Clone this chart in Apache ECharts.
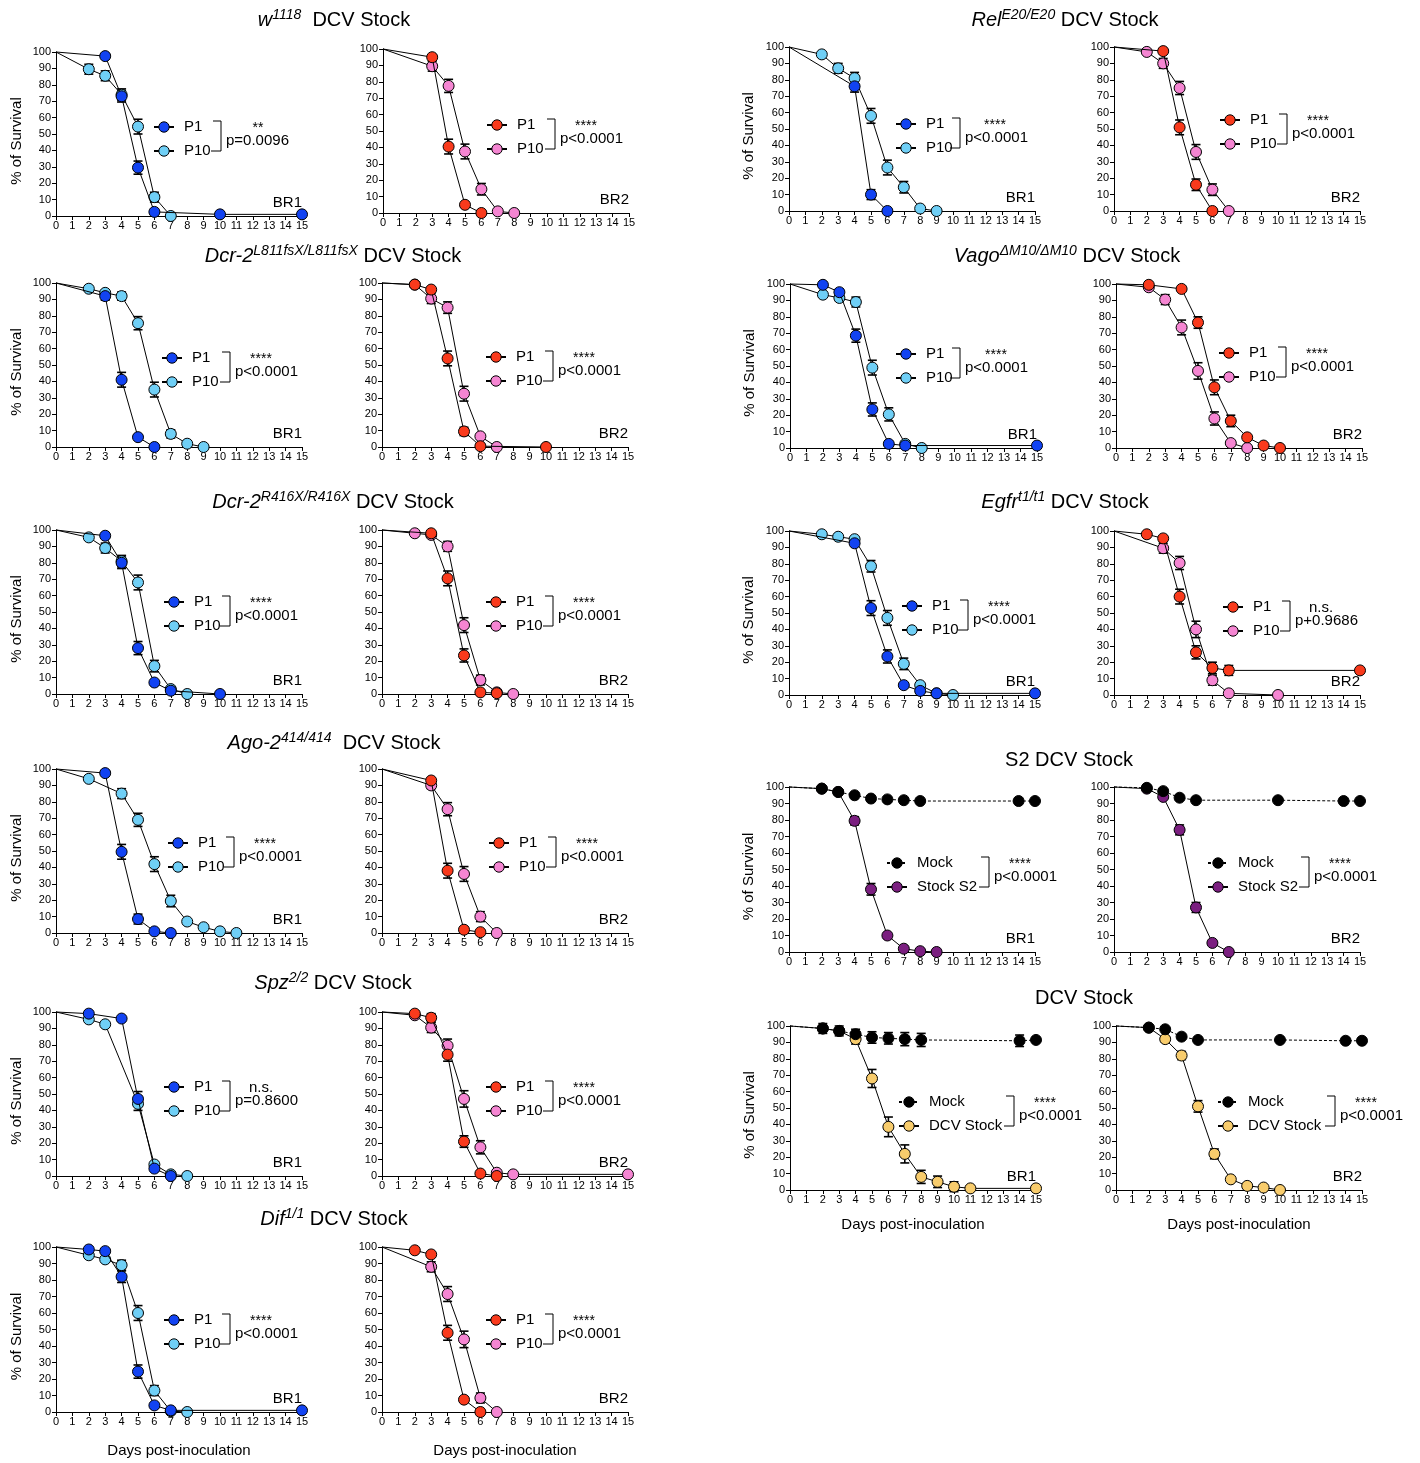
<!DOCTYPE html>
<html>
<head>
<meta charset="utf-8">
<script src="https://cdn.jsdelivr.net/npm/echarts@6/dist/echarts.min.js"></script>
<style>html,body{margin:0;padding:0;background:#fff}#c{width:1420px;height:1463px}</style>
</head>
<body>
<div id="c"></div>
<script>
// ---------- tick labels ----------
const dayTicks = [0,1,2,3,4,5,6,7,8,9,10,11,12,13,14,15];
const survTicks = [0,10,20,30,40,50,60,70,80,90,100];

// ---------- data: [day, % survival, SEM] ----------
const w1118_BR1_P1  = [[0,100,0],[3,97.5,0],[4,73,3.5],[5,29.5,4],[6,2.5,0],[10,1,0],[15,1,0]];
const w1118_BR1_P10 = [[0,100,0],[2,89.5,3],[3,85.5,3],[4,74,3.5],[5,54.5,4.5],[6,11.5,3],[7,0,0]];
const w1118_BR2_P1  = [[0,100,0],[3,95,0],[4,40.5,4.5],[5,5,0],[6,0,0]];
const w1118_BR2_P10 = [[0,100,0],[3,89.5,3],[4,77.5,4],[5,37.5,4.5],[6,14.5,3.5],[7,1,0],[8,0,0]];

const rel_BR1_P1  = [[0,100,0],[4,76,3.5],[5,10,3],[6,0,0]];
const rel_BR1_P10 = [[0,100,0],[2,95.5,0],[3,87,3],[4,81,3.5],[5,58,4.5],[6,26.5,4.5],[7,14.5,3.5],[8,1.5,0],[9,0,0]];
const rel_BR2_P1  = [[0,100,0],[3,97.5,0],[4,51,4.5],[5,16,3.5],[6,0,0]];
const rel_BR2_P10 = [[0,100,0],[2,97,0],[3,90,3],[4,75,4],[5,36,4.5],[6,13,3.5],[7,0,0]];

const l811_BR1_P1  = [[0,100,0],[3,92,2.5],[4,41,4.5],[5,6,0],[6,0,0]];
const l811_BR1_P10 = [[0,100,0],[2,96.5,0],[3,94,0],[4,92,2.5],[5,75.5,4],[6,35,4.5],[7,8,2.5],[8,2,0],[9,0,0]];
const l811_BR2_P1  = [[0,100,0],[2,99,0],[3,96,0],[4,54,4.5],[5,9.5,2.5],[6,0.5,0],[10,0,0]];
const l811_BR2_P10 = [[0,100,0],[2,99,0],[3,90.5,3],[4,85,3.5],[5,32.5,4.5],[6,6.5,0],[7,0,0]];

const vago_BR1_P1  = [[0,100,0],[2,99.5,0],[3,95,2],[4,68.5,4],[5,23.5,4],[6,2.5,0],[7,1.5,0],[15,1.5,0]];
const vago_BR1_P10 = [[0,100,0],[2,93.5,0],[3,91.5,2],[4,89,3],[5,49,4.5],[6,20.5,4],[7,2.5,0],[8,0,0]];
const vago_BR2_P1  = [[0,100,0],[2,99.5,0],[4,97,0],[5,76.5,3.5],[6,37,4.5],[7,16.5,3.5],[8,6.5,0],[9,1.5,0],[10,0,0]];
const vago_BR2_P10 = [[0,100,0],[2,98,0],[3,90.5,3],[4,73.5,4.5],[5,47,5],[6,18,4],[7,3,0],[8,0,0]];

const r416_BR1_P1  = [[0,100,0],[3,96.5,0],[4,80,3.5],[5,28,4],[6,7,0],[7,2,0],[10,0,0]];
const r416_BR1_P10 = [[0,100,0],[2,95.5,0],[3,89,3],[4,81,3.5],[5,68,4.5],[6,17,3.5],[7,3,0],[8,0,0]];
const r416_BR2_P1  = [[0,100,0],[3,98,0],[4,70.5,4.5],[5,23.5,4],[6,1,0],[7,0.5,0]];
const r416_BR2_P10 = [[0,100,0],[2,98,0],[3,97,0],[4,90,3],[5,42,4.5],[6,8.5,3],[7,1,1],[8,0,0]];

const ago_BR1_P1  = [[0,100,0],[3,97.5,0],[4,49.5,4.5],[5,8.5,3],[6,1,0],[7,0,0]];
const ago_BR1_P10 = [[0,100,0],[2,94,0],[4,85,3],[5,69,4],[6,42,4.5],[7,19.5,3.5],[8,7,0],[9,3.5,0],[10,1,0],[11,0,0]];
const ago_BR2_P1  = [[0,100,0],[3,93,0],[4,38,4.5],[5,2,0],[6,0.5,0]];
const ago_BR2_P10 = [[0,100,0],[3,90,2],[4,75.5,4],[5,36,4.5],[6,10,3],[7,0,0]];

const egfr_BR1_P1  = [[0,100,0],[4,92.5,0],[5,53,4.5],[6,23.5,4],[7,6,0],[8,2.5,0],[9,1,0],[15,1,0]];
const egfr_BR1_P10 = [[0,100,0],[2,98,0],[3,96.5,0],[4,95,0],[5,78.5,3.5],[6,47,4.5],[7,19,3.5],[8,6,0],[9,1,0],[10,0,0]];
const egfr_BR2_P1  = [[0,100,0],[2,98,0],[3,95.5,0],[4,60,4.5],[5,26,4],[6,16.5,3.5],[7,15,3],[15,15,0]];
const egfr_BR2_P10 = [[0,100,0],[3,89.5,3],[4,80.5,4],[5,40,5],[6,9,3],[7,1,0],[10,0,0]];

const s2_BR1_Mock  = [[0,100,0],[2,99,0],[3,97,0],[4,95,0],[5,93,0],[6,92.5,0],[7,92,0],[8,91.5,0],[14,91.5,0],[15,91.5,0]];
const s2_BR1_Stock = [[0,100,0],[2,99,0],[3,97,0],[4,79.5,2.5],[5,38,3.5],[6,10,0],[7,2,0],[8,0.5,0],[9,0,0]];
const s2_BR2_Mock  = [[0,100,0],[2,99.5,0],[3,97.5,0],[4,93.5,0],[5,92,0],[10,92,0],[14,91.5,0],[15,91.5,0]];
const s2_BR2_Stock = [[0,100,0],[2,99,0],[3,94,0],[4,74,3],[5,27,3],[6,5.5,0],[7,0,0]];

const spz_BR1_P1  = [[0,100,0],[2,99,0],[4,96,0],[5,47,4.5],[6,4.5,0],[7,0,0]];
const spz_BR1_P10 = [[0,100,0],[2,95.5,0],[3,92.5,0],[5,44,4],[6,7,0],[7,1,0],[8,0,0]];
const spz_BR2_P1  = [[0,100,0],[2,99,0],[3,96.5,2.5],[4,74,4],[5,21,3.5],[6,1.5,0],[7,0,0]];
const spz_BR2_P10 = [[0,100,0],[2,98,0],[3,90.5,3],[4,79.5,4],[5,47,5],[6,17.5,4],[7,2,0],[8,1,0],[15,1,0]];

const dcv_BR1_Mock  = [[0,100,0],[2,98.5,3],[3,97,3],[4,95,3],[5,93,3.5],[6,92.5,3.5],[7,92,4],[8,91.5,4],[14,91,3.5],[15,91.5,0]];
const dcv_BR1_Stock = [[0,100,0],[2,98.5,0],[3,97,0],[4,92,3],[5,68,5.5],[6,38.5,6],[7,22,5.5],[8,8,4],[9,5,3.5],[10,2,3],[11,1,1.5],[15,1,0]];
const dcv_BR2_Mock  = [[0,100,0],[2,99,0],[3,98,0],[4,93.5,0],[5,91.5,0],[10,91.5,0],[14,91,0],[15,91,0]];
const dcv_BR2_Stock = [[0,100,0],[2,99,0],[3,92,1.5],[4,82,2.5],[5,51,3.5],[6,22,3],[7,6.5,0],[8,2.5,0],[9,1.5,0],[10,0,0]];

const dif_BR1_P1  = [[0,100,0],[2,98.5,0],[3,97.5,0],[4,82,3.5],[5,24.5,4],[6,4,0],[7,1,0],[15,1,0]];
const dif_BR1_P10 = [[0,100,0],[2,95,0],[3,92.5,0],[4,89,3],[5,60,4.5],[6,13,3],[7,0.5,0],[8,0,0]];
const dif_BR2_P1  = [[0,100,0],[2,98,0],[3,95.5,0],[4,48,4.5],[5,7.5,0],[6,0,0]];
const dif_BR2_P10 = [[0,100,0],[3,88,3],[4,71.5,4.5],[5,44,5],[6,8.5,3],[7,0,0]];

// ---------- styling ----------
const FONT = 'Liberation Sans, Arial, Helvetica, sans-serif';
const BLUE = '#1243F2', LBLUE = '#6FCFF6', RED = '#F93A1C', PINK = '#F585D2',
      PURPLE = '#7B1F80', YELLOW = '#F8CC6C', BLACK = '#000000';

// layout per panel: g = [x(day0), x(day15), y(100%), y(0%)], leg = P1 legend symbol centre
const panels = [
  {s:[w1118_BR1_P1,w1118_BR1_P10], n:['P1','P10'], c:[BLUE,LBLUE], g:[56,302,52,216], leg:[163,126], stat:'**', p:'p=0.0096', br:'BR1', yGap:31.5, starDx:37},
  {s:[w1118_BR2_P1,w1118_BR2_P10], n:['P1','P10'], c:[RED,PINK], g:[383,629,49,213], leg:[496,124], stat:'****', p:'p<0.0001', br:'BR2', brDx:59},
  {s:[rel_BR1_P1,rel_BR1_P10], n:['P1','P10'], c:[BLUE,LBLUE], g:[789,1035,47,211], leg:[905,123], stat:'****', p:'p<0.0001', br:'BR1', yGap:33, brDx:55, starDx:35},
  {s:[rel_BR2_P1,rel_BR2_P10], n:['P1','P10'], c:[RED,PINK], g:[1114,1360,47,211], leg:[1229,119], stat:'****', p:'p<0.0001', br:'BR2'},
  {s:[l811_BR1_P1,l811_BR1_P10], n:['P1','P10'], c:[BLUE,LBLUE], g:[56,302,283,447], leg:[171,357], stat:'****', p:'p<0.0001', br:'BR1', yGap:31.5, brDx:59},
  {s:[l811_BR2_P1,l811_BR2_P10], n:['P1','P10'], c:[RED,PINK], g:[382,628,283,447], leg:[495,356], stat:'****', p:'p<0.0001', br:'BR2'},
  {s:[vago_BR1_P1,vago_BR1_P10], n:['P1','P10'], c:[BLUE,LBLUE], g:[790,1037,284,448], leg:[905,353], stat:'****', p:'p<0.0001', br:'BR1', yGap:33, brDx:55, starDx:36},
  {s:[vago_BR2_P1,vago_BR2_P10], n:['P1','P10'], c:[RED,PINK], g:[1116,1362,284,448], leg:[1228,352], stat:'****', p:'p<0.0001', br:'BR2'},
  {s:[r416_BR1_P1,r416_BR1_P10], n:['P1','P10'], c:[BLUE,LBLUE], g:[56,302,530,694], leg:[173,601], stat:'****', p:'p<0.0001', br:'BR1', yGap:31.5, brDx:57},
  {s:[r416_BR2_P1,r416_BR2_P10], n:['P1','P10'], c:[RED,PINK], g:[382,628,530,694], leg:[495,601], stat:'****', p:'p<0.0001', br:'BR2'},
  {s:[ago_BR1_P1,ago_BR1_P10], n:['P1','P10'], c:[BLUE,LBLUE], g:[56,302,769,933], leg:[177,842], stat:'****', p:'p<0.0001', br:'BR1', yGap:31.5, brDx:57},
  {s:[ago_BR2_P1,ago_BR2_P10], n:['P1','P10'], c:[RED,PINK], g:[382,628,769,933], leg:[498,842], stat:'****', p:'p<0.0001', br:'BR2'},
  {s:[egfr_BR1_P1,egfr_BR1_P10], n:['P1','P10'], c:[BLUE,LBLUE], g:[789,1035,531,695], leg:[911,605], stat:'****', p:'p<0.0001', br:'BR1', yGap:33, brDx:57},
  {s:[egfr_BR2_P1,egfr_BR2_P10], n:['P1','P10'], c:[RED,PINK], g:[1114,1360,531,695], leg:[1232,606], stat:'n.s.', p:'p+0.9686', br:'BR2'},
  {s:[s2_BR1_Mock,s2_BR1_Stock], n:['Mock','Stock S2'], c:[BLACK,PURPLE], g:[789,1035,787,952], leg:[896,862], stat:'****', p:'p<0.0001', br:'BR1', yGap:33, brDx:93, mock:true},
  {s:[s2_BR2_Mock,s2_BR2_Stock], n:['Mock','Stock S2'], c:[BLACK,PURPLE], g:[1114,1360,787,952], leg:[1217,862], stat:'****', p:'p<0.0001', br:'BR2', brDx:92, mock:true},
  {s:[spz_BR1_P1,spz_BR1_P10], n:['P1','P10'], c:[BLUE,LBLUE], g:[56,302,1012,1176], leg:[173,1086], stat:'n.s.', p:'p=0.8600', br:'BR1', yGap:31.5, brDx:57},
  {s:[spz_BR2_P1,spz_BR2_P10], n:['P1','P10'], c:[RED,PINK], g:[382,628,1012,1176], leg:[495,1086], stat:'****', p:'p<0.0001', br:'BR2'},
  {s:[dcv_BR1_Mock,dcv_BR1_Stock], n:['Mock','DCV Stock'], c:[BLACK,YELLOW], g:[790,1036,1026,1190], leg:[908,1101], stat:'****', p:'p<0.0001', br:'BR1', yGap:33, brDx:106, mock:true, xGap:27},
  {s:[dcv_BR2_Mock,dcv_BR2_Stock], n:['Mock','DCV Stock'], c:[BLACK,YELLOW], g:[1116,1362,1026,1190], leg:[1227,1101], stat:'****', p:'p<0.0001', br:'BR2', brDx:108, mock:true, xGap:27},
  {s:[dif_BR1_P1,dif_BR1_P10], n:['P1','P10'], c:[BLUE,LBLUE], g:[56,302,1247,1412], leg:[173,1319], stat:'****', p:'p<0.0001', br:'BR1', yGap:31.5, brDx:57, xGap:31},
  {s:[dif_BR2_P1,dif_BR2_P10], n:['P1','P10'], c:[RED,PINK], g:[382,628,1247,1412], leg:[495,1319], stat:'****', p:'p<0.0001', br:'BR2', xGap:31}
];

const titles = [
  {x:334, y:20, t:'{i|w}{s|1118}{n|  DCV Stock}'},
  {x:1065, y:20, t:'{i|Rel}{s|E20/E20}{n| DCV Stock}'},
  {x:333, y:256, t:'{i|Dcr-2}{s|L811fsX/L811fsX}{n| DCV Stock}'},
  {x:1067, y:256, t:'{i|Vago}{s|ΔM10/ΔM10}{n| DCV Stock}'},
  {x:333, y:502, t:'{i|Dcr-2}{s|R416X/R416X}{n| DCV Stock}'},
  {x:1065, y:502, t:'{i|Egfr}{s|t1/t1}{n| DCV Stock}'},
  {x:334, y:743, t:'{i|Ago-2}{s|414/414}{n|  DCV Stock}'},
  {x:1069, y:760, t:'{n|S2 DCV Stock}'},
  {x:333, y:983, t:'{i|Spz}{s|2/2}{n| DCV Stock}'},
  {x:1084, y:998, t:'{n|DCV Stock}'},
  {x:334, y:1219, t:'{i|Dif}{s|1/1}{n| DCV Stock}'}
];

// ---------- build option ----------
const grids = [], xAxes = [], yAxes = [], series = [], legends = [], gfx = [];
const axisCommon = {
  type:'value',
  axisLine:{show:true, onZero:false, lineStyle:{color:'#000', width:1}},
  axisTick:{show:true, inside:false, length:4, lineStyle:{color:'#000', width:1}},
  splitLine:{show:false},
  axisLabel:{color:'#000', fontSize:11, fontFamily:FONT}
};

panels.forEach((p, i) => {
  const [x0, x1, yTop, yBot] = p.g;
  grids.push({left:x0, top:yTop, width:x1 - x0, height:yBot - yTop, containLabel:false, outerBoundsMode:'none'});
  xAxes.push(Object.assign({}, axisCommon, {
    gridIndex:i, min:dayTicks[0], max:dayTicks[dayTicks.length-1], interval:dayTicks[1]-dayTicks[0],
    axisLabel:Object.assign({}, axisCommon.axisLabel, {margin:4}),
    name: p.xGap ? 'Days post-inoculation' : '', nameLocation:'middle', nameGap:p.xGap || 0,
    nameTextStyle:{fontSize:15, color:'#000', fontFamily:FONT}
  }));
  yAxes.push(Object.assign({}, axisCommon, {
    gridIndex:i, min:survTicks[0], max:survTicks[survTicks.length-1], interval:survTicks[1]-survTicks[0],
    axisLabel:Object.assign({}, axisCommon.axisLabel, {margin:5}),
    name: p.yGap ? '% of Survival' : '', nameLocation:'middle', nameGap:p.yGap || 0,
    nameTextStyle:{fontSize:15, color:'#000', fontFamily:FONT, padding:[0,14,0,0]}
  }));

  // error bars (drawn under symbols)
  p.s.forEach((arr, k) => {
    series.push({
      type:'custom', name:'sem', xAxisIndex:i, yAxisIndex:i, silent:true, z:2, animation:false,
      data: arr.filter(d => d[2] > 0),
      encode:{x:0, y:1},
      renderItem:(params, api) => {
        const x = api.value(0), y = api.value(1), e = api.value(2);
        const a = api.coord([x, y + e]), b = api.coord([x, y - e]);
        const st = {stroke:'#000', lineWidth:1.6};
        const hw = 4.5;
        return {type:'group', children:[
          {type:'line', shape:{x1:a[0], y1:a[1], x2:b[0], y2:b[1]}, style:st},
          {type:'line', shape:{x1:a[0]-hw, y1:a[1], x2:a[0]+hw, y2:a[1]}, style:st},
          {type:'line', shape:{x1:b[0]-hw, y1:b[1], x2:b[0]+hw, y2:b[1]}, style:st}
        ]};
      }
    });
  });

  // lines + symbols: second group first so the first group is drawn on top
  [1, 0].forEach(k => {
    const arr = p.s[k];
    const dashed = p.mock && k === 0;
    series.push({
      type:'line', name:p.n[k] + '@' + i, xAxisIndex:i, yAxisIndex:i, z:3 + (1 - k), animation:false,
      data: arr.map(d => d[0] === 0 ? {value:[d[0], d[1]], symbol:'none'} : [d[0], d[1]]),
      symbol:'circle', symbolSize:11, showSymbol:true, clip:false,
      lineStyle:{color:'#000', width:1, type: dashed ? [3, 2] : 'solid'},
      itemStyle:{color:p.c[k], borderColor:'#000', borderWidth:1},
      emphasis:{disabled:true}
    });
  });

  const [cx, cy] = p.leg;
  legends.push({
    orient:'vertical', left:cx - 10, top:cy - 6.5, padding:0, itemGap:9,
    itemWidth:20, itemHeight:13, selectedMode:false,
    data:[p.n[0] + '@' + i, p.n[1] + '@' + i],
    formatter: name => name.split('@')[0],
    itemStyle:{borderWidth:1, borderColor:'#000'},
    textStyle:{fontSize:15, color:'#000', fontFamily:FONT, lineHeight:13, padding:[0,0,0,5]}
  });

  const bx = cx + (p.brDx || 58);
  gfx.push({type:'polyline', silent:true, shape:{points:[[bx-8, cy-5],[bx, cy-5],[bx, cy+25],[bx-10, cy+25]]},
            style:{stroke:'#000', lineWidth:1, fill:null}});
  const ns = p.stat === 'n.s.';
  gfx.push({type:'text', silent:true, x:bx + (p.starDx || 31), y:cy + (ns ? 1.5 : 2),
            style:{text:p.stat, fontSize:ns ? 15 : 14, fontFamily:FONT, fill:'#000',
                   align:'center', textAlign:'center', verticalAlign:'middle', textVerticalAlign:'middle'}});
  gfx.push({type:'text', silent:true, x:bx + 5, y:cy + 15,
            style:{text:p.p, fontSize:15, fontFamily:FONT, fill:'#000',
                   align:'left', textAlign:'left', verticalAlign:'middle', textVerticalAlign:'middle'}});
  gfx.push({type:'text', silent:true, x:x1, y:yBot - 13,
            style:{text:p.br, fontSize:15, fontFamily:FONT, fill:'#000',
                   align:'right', textAlign:'right', verticalAlign:'middle', textVerticalAlign:'middle'}});
});

titles.forEach(t => {
  gfx.push({type:'text', silent:true, x:t.x, y:t.y,
    style:{text:t.t, fill:'#000', fontFamily:FONT,
      align:'center', textAlign:'center', verticalAlign:'middle', textVerticalAlign:'middle',
      rich:{
        i:{fontSize:20, fontStyle:'italic', fontFamily:FONT, lineHeight:24, fill:'#000'},
        s:{fontSize:14, fontStyle:'italic', fontFamily:FONT, lineHeight:14, verticalAlign:'top', fill:'#000'},
        n:{fontSize:20, fontFamily:FONT, lineHeight:24, fill:'#000'}
      }}});
});

const chart = echarts.init(document.getElementById('c'), null, {renderer:'canvas', width:1420, height:1463});
chart.setOption({
  backgroundColor:'#ffffff',
  animation:false,
  textStyle:{fontFamily:FONT},
  grid:grids, xAxis:xAxes, yAxis:yAxes, series:series, legend:legends,
  graphic:{elements:gfx}
});
</script>
</body>
</html>
